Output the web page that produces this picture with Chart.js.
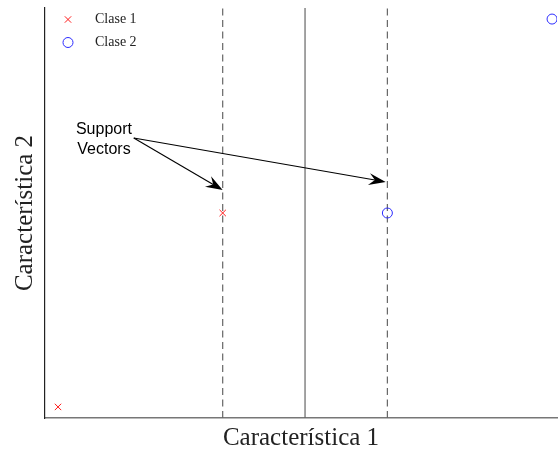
<!DOCTYPE html>
<html>
<head>
<meta charset="utf-8">
<script src="https://cdn.jsdelivr.net/npm/chart.js@4/dist/chart.umd.min.js"></script>
<style>
  html, body { margin: 0; padding: 0; background: #ffffff; }
  #wrap { width: 558px; height: 452px; position: relative; }
</style>
</head>
<body>
<div id="wrap"><canvas id="svm"></canvas></div>
<script>
// Two linearly separable classes
const classLabels = ['Clase 1', 'Clase 2'];
const clase1X = [0, 1];
const clase1Y = [0, 1];
const clase2X = [2, 3];
const clase2Y = [1, 2];

// Separating hyperplane and margin boundaries
const hyperplaneX = 1.5;
const marginX = [1, 2];

// Axis extents
const xRange = [-0.079, 3.03];
const yRange = [-0.057, 2.057];

// "Support Vectors" callout
const calloutText = ['Support', 'Vectors'];
const calloutTextPos = [0.279, 1.38];
const calloutTail = [0.46, 1.387];
const calloutTips = [[1, 1.118], [1.99, 1.16]];

const axisTitles = ['Característica 1', 'Característica 2'];

const toPoints = (xs, ys) => xs.map((x, i) => ({ x: x, y: ys[i] }));
const vline = (x) => [{ x: x, y: yRange[0] }, { x: x, y: yRange[1] }];

const datasets = [
  {
    type: 'scatter',
    label: classLabels[0],
    data: toPoints(clase1X, clase1Y),
    pointStyle: 'crossRot',
    pointRadius: 4.5,
    borderColor: '#ff1a1a',
    backgroundColor: '#ff1a1a',
    borderWidth: 1,
    order: 0
  },
  {
    type: 'scatter',
    label: classLabels[1],
    data: toPoints(clase2X, clase2Y),
    pointStyle: 'circle',
    pointRadius: 5,
    borderColor: '#2b2bff',
    backgroundColor: 'rgba(0,0,0,0)',
    borderWidth: 1,
    order: 0
  },
  {
    type: 'line',
    label: 'hyperplane',
    data: vline(hyperplaneX),
    borderColor: '#666666',
    borderWidth: 1.2,
    pointRadius: 0,
    fill: false,
    order: 2
  }
].concat(marginX.map(mx => ({
  type: 'line',
  label: 'margin',
  data: vline(mx),
  borderColor: '#666666',
  borderWidth: 1.2,
  borderDash: [7, 4.5],
  pointRadius: 0,
  fill: false,
  order: 2
})));

// Legend drawn in the upper-left corner of the plot area
const insideLegend = {
  id: 'insideLegend',
  afterDatasetsDraw(chart) {
    const ctx = chart.ctx;
    const area = chart.chartArea;
    const rows = chart.data.datasets.filter(d => classLabels.includes(d.label));
    ctx.save();
    rows.forEach((ds, i) => {
      const cx = area.left + 23;
      const cy = area.top + 11.5 + i * 23;
      ctx.strokeStyle = ds.borderColor;
      ctx.fillStyle = 'rgba(0,0,0,0)';
      ctx.lineWidth = 1;
      Chart.helpers.drawPoint(ctx, {
        pointStyle: ds.pointStyle,
        radius: ds.pointRadius,
        borderWidth: 1,
        rotation: 0
      }, cx, cy);
      ctx.fillStyle = '#222222';
      ctx.font = '14px "Liberation Serif", serif';
      ctx.textBaseline = 'middle';
      ctx.textAlign = 'left';
      ctx.fillText(ds.label, area.left + 50, cy);
    });
    ctx.restore();
  }
};

// Callout text with arrows pointing at the support vectors
const callout = {
  id: 'callout',
  afterDatasetsDraw(chart) {
    const ctx = chart.ctx;
    const xs = chart.scales.x, ys = chart.scales.y;
    const tx = xs.getPixelForValue(calloutTail[0]);
    const ty = ys.getPixelForValue(calloutTail[1]);
    ctx.save();
    ctx.strokeStyle = '#000000';
    ctx.fillStyle = '#000000';
    ctx.lineWidth = 1.1;
    calloutTips.forEach(tip => {
      const px = xs.getPixelForValue(tip[0]);
      const py = ys.getPixelForValue(tip[1]);
      const ang = Math.atan2(py - ty, px - tx);
      const len = 17, half = 6, notch = 11;
      ctx.beginPath();
      ctx.moveTo(tx, ty);
      ctx.lineTo(px - Math.cos(ang) * notch, py - Math.sin(ang) * notch);
      ctx.stroke();
      const bx = px - Math.cos(ang) * len, by = py - Math.sin(ang) * len;
      const nx = -Math.sin(ang), ny = Math.cos(ang);
      ctx.beginPath();
      ctx.moveTo(px, py);
      ctx.lineTo(bx + nx * half, by + ny * half);
      ctx.lineTo(px - Math.cos(ang) * notch, py - Math.sin(ang) * notch);
      ctx.lineTo(bx - nx * half, by - ny * half);
      ctx.closePath();
      ctx.fill();
    });
    const cx = xs.getPixelForValue(calloutTextPos[0]);
    const cy = ys.getPixelForValue(calloutTextPos[1]);
    ctx.font = '16px "Liberation Sans", Arial, sans-serif';
    ctx.textAlign = 'center';
    ctx.textBaseline = 'middle';
    calloutText.forEach((t, i) => {
      ctx.fillText(t, cx, cy + (i - 0.5) * 20);
    });
    ctx.restore();
  }
};

new Chart(document.getElementById('svm'), {
  data: { datasets: datasets },
  options: {
    responsive: true,
    maintainAspectRatio: false,
    animation: false,
    layout: { autoPadding: false, padding: { top: 8, right: 1, left: 8, bottom: 0 } },
    plugins: {
      legend: { display: false },
      tooltip: { enabled: false }
    },
    scales: {
      x: {
        type: 'linear',
        min: xRange[0],
        max: xRange[1],
        ticks: { display: false },
        grid: { display: false, drawTicks: false },
        border: { display: true, color: '#777777', width: 1.5 },
        title: {
          display: true,
          text: axisTitles[0],
          color: '#222222',
          font: { family: '"Liberation Serif", serif', size: 25, lineHeight: 1.1 },
          padding: { top: 6.5, bottom: 0 }
        }
      },
      y: {
        type: 'linear',
        min: yRange[0],
        max: yRange[1],
        ticks: { display: false },
        grid: { display: false, drawTicks: false },
        border: { display: true, color: '#222222', width: 1.2 },
        title: {
          display: true,
          text: axisTitles[1],
          color: '#222222',
          font: { family: '"Liberation Serif", serif', size: 25 },
          padding: { top: 2, bottom: 5 }
        }
      }
    }
  },
  plugins: [insideLegend, callout]
});
</script>
</body>
</html>
